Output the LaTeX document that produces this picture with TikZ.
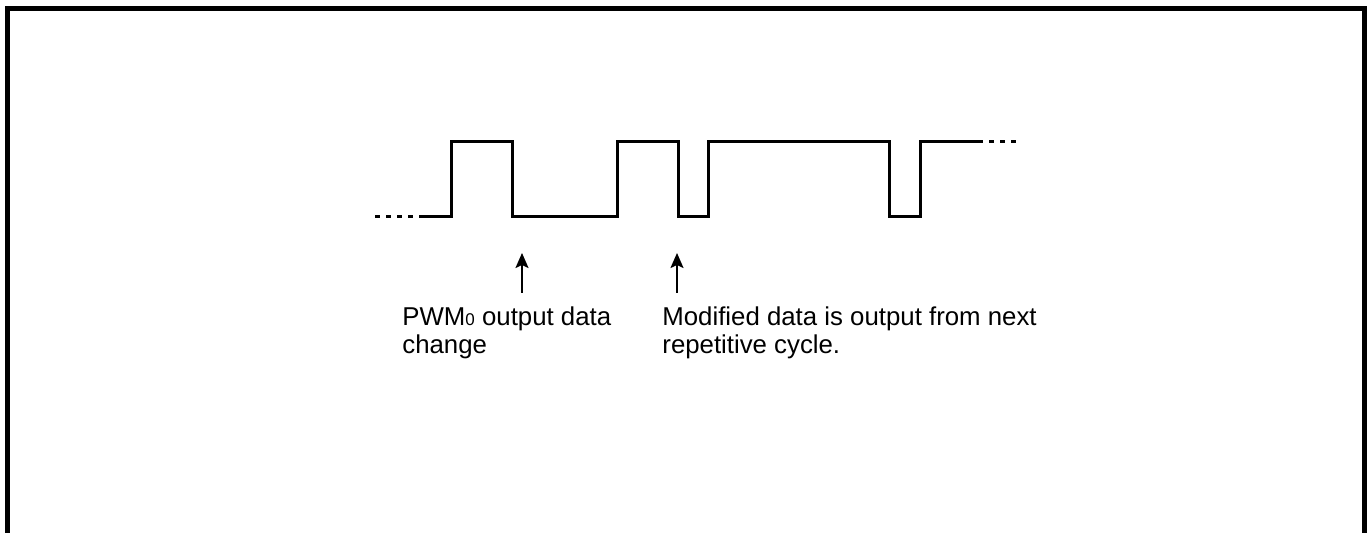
\documentclass[tikz,border=0pt]{standalone}
\usepackage{fontspec}
\setmainfont{Liberation Sans}
\usetikzlibrary{arrows.meta}

\begin{document}
\begin{tikzpicture}[x=0.5pt,y=-0.5pt,>=Stealth]
\tikzset{wave/.style={line width=1.5pt},
dots/.style={line width=1.5pt,dash pattern=on 2.5pt off 3pt},
note/.style={anchor=north west,inner sep=0pt,align=left,font=\fontsize{12.9}{14.4}\selectfont},
pointer/.style={line width=1pt,-{Stealth[length=7.5pt,width=6.5pt,inset=1.5pt]}}}
\useasboundingbox(0,0)rectangle(1370,533);
\draw[line width=2.5pt](7.5,545)--(7.5,8.5)--(1364.5,8.5)--(1364.5,545);
\coordinate (s) at (375,217);
\coordinate (a) at (420,217);
\coordinate (b) at (978,142);
\coordinate (e) at (1017,142);
\draw[dots](s)--(a);
\draw[wave](a)--(451,217)--(451,142)--(512,142)--(512,217)--(617,217)--(617,142)
--(678,142)--(678,217)--(708,217)--(708,142)--(889,142)--(889,217)--(920,217)--(920,142)--(b);
\draw[dots](b)--(e);
\node[note](chg) at (402,306){PWM{\fontsize{8.5}{9}\selectfont 0} output data\\change};
\node[note](mod) at (662,306){Modified data is output from next\\repetitive cycle.};
\coordinate (chgtip) at (522,253);
\coordinate (chgtail) at (522,293);
\coordinate (modtip) at (677,253);
\coordinate (modtail) at (677,293);
\draw[pointer](chgtail)--(chgtip);
\draw[pointer](modtail)--(modtip);
\end{tikzpicture}
\end{document}
